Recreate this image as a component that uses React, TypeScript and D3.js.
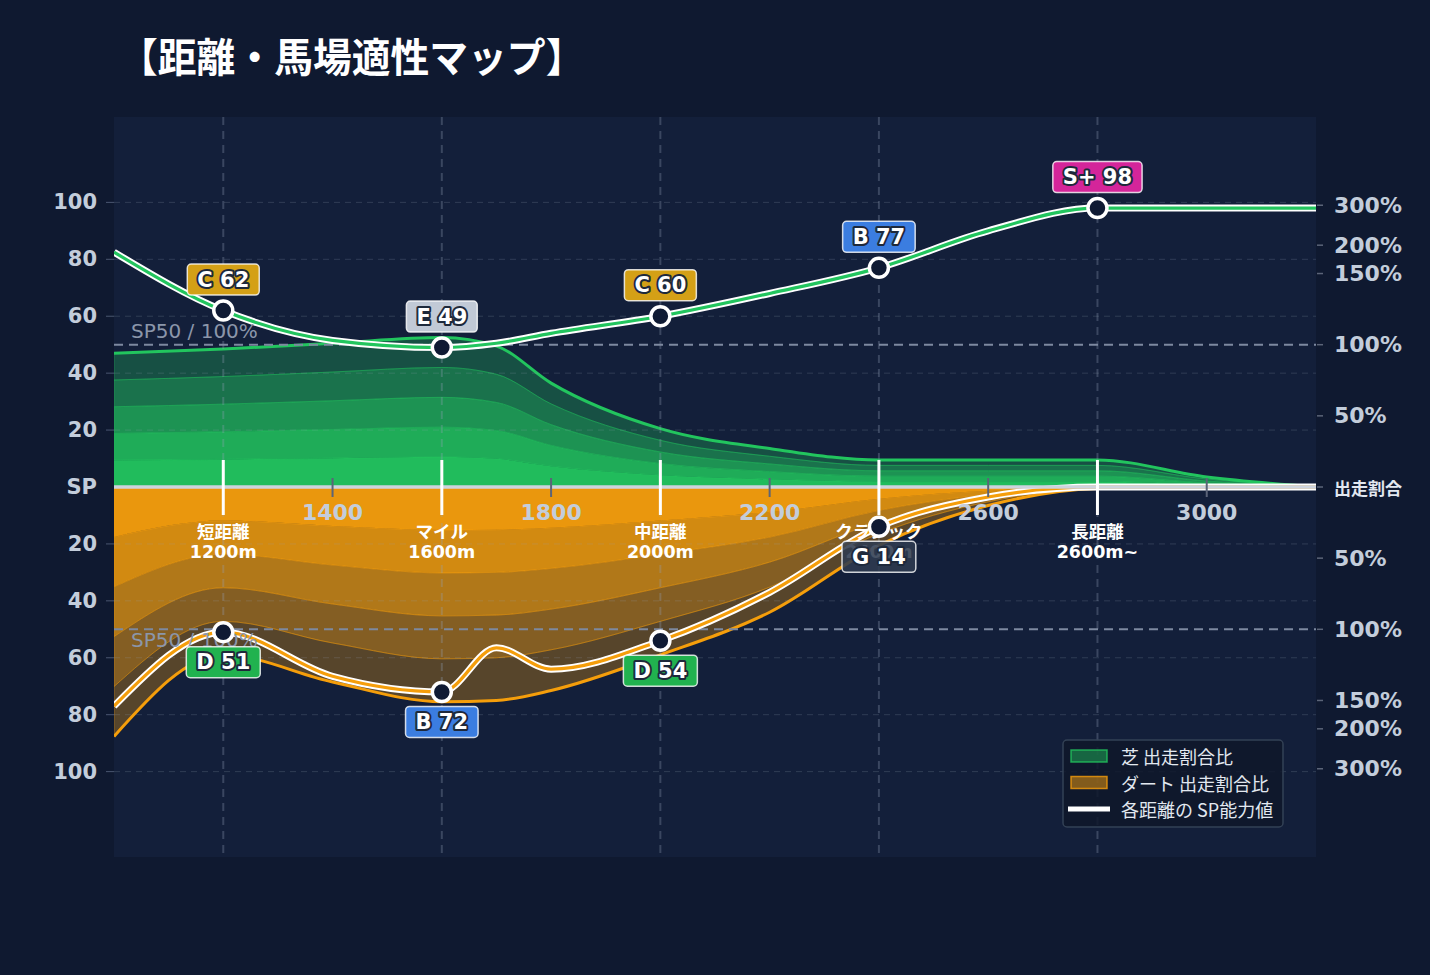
import { useEffect, useRef } from 'react';
import * as d3 from 'd3';

// distances (m) where the series are sampled
const distances = [1000, 1200, 1400, 1600, 1700, 1800, 2000, 2200, 2400, 2600, 2800, 3000, 3200];
// share of starts (%)
const turfRatio = [94, 97, 101, 105, 99, 73, 41, 27, 19, 19, 19, 7, 0];
const dirtRatio = [216, 118, 137, 152, 150, 143, 118, 88, 41, 13, 1, 0, 0];
// SP ability per distance
const turfSp = [82.5, 62, 51.5, 49, 50.5, 54, 60, 68, 77, 90, 98, 98, 98];
const dirtSp = [77, 51, 66.5, 72, 56.5, 64, 54, 37, 14, 3.5, 0, 0, 0];

const categoryDistances = [1200, 1600, 2000, 2400, 2800];
const categoryNames = ['短距離', 'マイル', '中距離', 'クラシック', '長距離'];
const categoryRanges = ['1200m', '1600m', '2000m', '2400m', '2600m~'];
const turfGrades = ['C', 'E', 'C', 'B', 'S+'];
const dirtGrades = ['D', 'B', 'D', 'G', ''];

const xTicks = [1400, 1800, 2200, 2600, 3000];
const spTicks = [20, 40, 60, 80, 100];
const pctTicks = [50, 100, 150, 200, 300];

const gradeColors: Record<string, string> = {
  'S+': '#d4259a',
  A: '#e0572b',
  B: '#3b7de0',
  C: '#d4a016',
  D: '#21b24f',
  E: '#c1c9d6',
  G: 'rgba(47,59,80,0.88)'
};

const legendItems = [
  { label: '芝 出走割合比', kind: 'turf' },
  { label: 'ダート 出走割合比', kind: 'dirt' },
  { label: '各距離の SP能力値', kind: 'line' }
];

const FONT = "'DejaVu Sans', 'Noto Sans CJK JP', sans-serif";
const CJK = "'Noto Sans CJK JP', 'DejaVu Sans', sans-serif";

// ratio (%) -> SP-scale height. linear up to 150%, log2 above
const pctToSp = (p: number) => (p <= 150 ? p / 2 : 75 + 24 * Math.log2(p / 150));

const W = 1430;
const H = 975;
const plot = { left: 114, right: 1316, top: 117, bottom: 857, base: 487 };

export default function App() {
  const svgRef = useRef<SVGSVGElement>(null);

  useEffect(() => {
    if (!svgRef.current) return;
    const svg = d3.select(svgRef.current);
    svg.selectAll('*').remove();

    const x = d3.scaleLinear().domain([1000, 3200]).range([plot.left, plot.right]);
    const yUp = d3.scaleLinear().domain([0, 130]).range([plot.base, plot.top]);
    const yDown = d3.scaleLinear().domain([0, 130]).range([plot.base, plot.bottom]);

    svg.append('rect').attr('width', W).attr('height', H).attr('fill', '#0f1930');

    svg.append('text')
      .attr('transform', 'translate(119,54) scale(0.97,1)')
      .attr('dominant-baseline', 'central')
      .attr('fill', '#ffffff')
      .attr('font-family', CJK)
      .attr('font-weight', 700)
      .attr('font-size', 40)
      .text('【距離・馬場適性マップ】');

    svg.append('rect')
      .attr('x', plot.left)
      .attr('y', plot.top)
      .attr('width', plot.right - plot.left)
      .attr('height', plot.bottom - plot.top)
      .attr('fill', '#131f3a');

    svg.append('clipPath').attr('id', 'plot-clip')
      .append('rect')
      .attr('x', plot.left)
      .attr('y', plot.top)
      .attr('width', plot.right - plot.left)
      .attr('height', plot.bottom - plot.top);

    const chart = svg.append('g').attr('clip-path', 'url(#plot-clip)');

    // stacked-looking ratio bands
    const bandOpacity = [0.95, 0.85, 0.7, 0.5, 0.3];
    const drawBands = (
      ratios: number[],
      y: d3.ScaleLinear<number, number>,
      color: string
    ) => {
      bandOpacity.forEach((op, i) => {
        const area = d3.area<number>()
          .x((_, j) => x(distances[j]))
          .y0((d) => y(pctToSp(d) * i / 5))
          .y1((d) => y(pctToSp(d) * (i + 1) / 5))
          .curve(d3.curveMonotoneX);
        chart.append('path')
          .datum(ratios)
          .attr('d', area)
          .attr('fill', color)
          .attr('fill-opacity', op)
          .attr('stroke', color)
          .attr('stroke-opacity', 0.35)
          .attr('stroke-width', 1);
      });
      const outer = d3.line<number>()
        .x((_, j) => x(distances[j]))
        .y((d) => y(pctToSp(d)))
        .curve(d3.curveMonotoneX);
      chart.append('path')
        .datum(ratios)
        .attr('d', outer)
        .attr('fill', 'none')
        .attr('stroke', color)
        .attr('stroke-width', 3);
    };
    drawBands(turfRatio, yUp, '#22c55e');
    drawBands(dirtRatio, yDown, '#f59e0b');

    // grid
    spTicks.forEach((t) => {
      [yUp(t), yDown(t)].forEach((yy) => {
        chart.append('line')
          .attr('x1', plot.left).attr('x2', plot.right)
          .attr('y1', yy).attr('y2', yy)
          .attr('stroke', 'rgba(148,163,184,0.22)')
          .attr('stroke-width', 1)
          .attr('stroke-dasharray', '6,5');
        svg.append('line')
          .attr('x1', plot.left - 8).attr('x2', plot.left)
          .attr('y1', yy).attr('y2', yy)
          .attr('stroke', '#4a5670');
      });
    });
    categoryDistances.forEach((d) => {
      chart.append('line')
        .attr('x1', x(d)).attr('x2', x(d))
        .attr('y1', plot.top).attr('y2', plot.bottom)
        .attr('stroke', 'rgba(148,163,184,0.3)')
        .attr('stroke-width', 2)
        .attr('stroke-dasharray', '8,6');
    });

    // SP50 reference
    [yUp(50), yDown(50)].forEach((yy, i) => {
      chart.append('line')
        .attr('x1', plot.left).attr('x2', plot.right)
        .attr('y1', yy).attr('y2', yy)
        .attr('stroke', '#7d89a0')
        .attr('stroke-width', 2)
        .attr('stroke-dasharray', '9,6');
      svg.append('text')
        .attr('x', 131)
        .attr('y', i === 0 ? yy - 14 : yy + 11)
        .attr('dominant-baseline', 'central')
        .attr('fill', '#8b96aa')
        .attr('font-family', FONT)
        .attr('font-size', 20)
        .text('SP50 / 100%');
    });

    // baseline
    svg.append('line')
      .attr('x1', plot.left).attr('x2', plot.right)
      .attr('y1', plot.base).attr('y2', plot.base)
      .attr('stroke', '#cdd3dd')
      .attr('stroke-width', 3.5);

    // distance ticks
    xTicks.forEach((t) => {
      svg.append('line')
        .attr('x1', x(t)).attr('x2', x(t))
        .attr('y1', plot.base - 9).attr('y2', plot.base + 10)
        .attr('stroke', '#5b6478')
        .attr('stroke-width', 2);
      svg.append('text')
        .attr('x', x(t))
        .attr('y', plot.base + 25)
        .attr('text-anchor', 'middle')
        .attr('dominant-baseline', 'central')
        .attr('fill', '#c3cddb')
        .attr('font-family', FONT)
        .attr('font-weight', 700)
        .attr('font-size', 22)
        .text(t);
    });

    // category markers
    categoryDistances.forEach((d, i) => {
      svg.append('line')
        .attr('x1', x(d)).attr('x2', x(d))
        .attr('y1', plot.base - 27).attr('y2', plot.base + 28)
        .attr('stroke', '#ffffff')
        .attr('stroke-width', 3);
      svg.append('text')
        .attr('x', x(d))
        .attr('y', plot.base + 43)
        .attr('text-anchor', 'middle')
        .attr('dominant-baseline', 'central')
        .attr('fill', '#ffffff')
        .attr('font-family', CJK)
        .attr('font-weight', 700)
        .attr('font-size', 17.5)
        .text(categoryNames[i]);
      svg.append('text')
        .attr('x', x(d))
        .attr('y', plot.base + 65)
        .attr('text-anchor', 'middle')
        .attr('dominant-baseline', 'central')
        .attr('fill', '#ffffff')
        .attr('font-family', FONT)
        .attr('font-weight', 700)
        .attr('font-size', 17.5)
        .text(categoryRanges[i]);
    });

    // SP lines
    const drawSp = (values: number[], y: d3.ScaleLinear<number, number>, color: string) => {
      const line = d3.line<number>()
        .x((_, j) => x(distances[j]))
        .y((d) => y(d))
        .curve(d3.curveMonotoneX);
      chart.append('path').datum(values).attr('d', line)
        .attr('fill', 'none').attr('stroke', '#ffffff').attr('stroke-width', 7);
      chart.append('path').datum(values).attr('d', line)
        .attr('fill', 'none').attr('stroke', color).attr('stroke-width', 3.2);
    };
    drawSp(turfSp, yUp, '#22c55e');
    drawSp(dirtSp, yDown, '#f59e0b');

    // points and grade badges
    const drawBadges = (
      values: number[],
      grades: string[],
      y: d3.ScaleLinear<number, number>,
      offset: number
    ) => {
      categoryDistances.forEach((d, i) => {
        const g = grades[i];
        if (!g) return;
        const v = values[distances.indexOf(d)];
        const cx = x(d);
        const cy = y(v);
        svg.append('circle')
          .attr('cx', cx).attr('cy', cy).attr('r', 9.5)
          .attr('fill', '#0f1a33')
          .attr('stroke', '#ffffff')
          .attr('stroke-width', 3.5);
        const badge = svg.append('g').attr('transform', `translate(${cx},${cy + offset})`);
        const rect = badge.append('rect')
          .attr('rx', 4)
          .attr('fill', gradeColors[g])
          .attr('stroke', 'rgba(255,255,255,0.8)')
          .attr('stroke-width', 1.5);
        const txt = badge.append('text')
          .attr('text-anchor', 'middle')
          .attr('dominant-baseline', 'central')
          .attr('fill', '#ffffff')
          .attr('stroke', '#1e293b')
          .attr('stroke-width', 4)
          .attr('stroke-linejoin', 'round')
          .attr('paint-order', 'stroke')
          .attr('font-family', FONT)
          .attr('font-weight', 700)
          .attr('font-size', 21)
          .text(`${g} ${Math.round(v)}`);
        const tw = (txt.node() as SVGTextElement).getComputedTextLength();
        const bw = tw + 20;
        rect.attr('x', -bw / 2).attr('y', -15.5).attr('width', bw).attr('height', 31);
      });
    };
    drawBadges(turfSp, turfGrades, yUp, -31);
    drawBadges(dirtSp, dirtGrades, yDown, 30);

    // left axis
    const leftLabels: [number, string][] = [[plot.base, 'SP']];
    spTicks.forEach((t) => {
      leftLabels.push([yUp(t), String(t)]);
      leftLabels.push([yDown(t), String(t)]);
    });
    leftLabels.forEach(([yy, label]) => {
      svg.append('text')
        .attr('x', 97)
        .attr('y', yy)
        .attr('text-anchor', 'end')
        .attr('dominant-baseline', 'central')
        .attr('fill', '#c3cddb')
        .attr('font-family', FONT)
        .attr('font-weight', 700)
        .attr('font-size', 21)
        .text(label);
    });

    // right axis (ratio)
    const rightTick = (yy: number) =>
      svg.append('line')
        .attr('x1', plot.right + 1).attr('x2', plot.right + 7)
        .attr('y1', yy).attr('y2', yy)
        .attr('stroke', '#5b6478')
        .attr('stroke-width', 1.5);
    pctTicks.forEach((p) => {
      [yUp(pctToSp(p)), yDown(pctToSp(p))].forEach((yy) => {
        rightTick(yy);
        svg.append('text')
          .attr('x', 1334)
          .attr('y', yy)
          .attr('dominant-baseline', 'central')
          .attr('fill', '#c3cddb')
          .attr('font-family', FONT)
          .attr('font-weight', 700)
          .attr('font-size', 22)
          .text(`${p}%`);
      });
    });
    rightTick(plot.base);
    svg.append('text')
      .attr('x', 1334)
      .attr('y', plot.base)
      .attr('dominant-baseline', 'central')
      .attr('fill', '#e2e8f0')
      .attr('font-family', CJK)
      .attr('font-weight', 700)
      .attr('font-size', 17)
      .text('出走割合');

    // legend
    const lg = svg.append('g').attr('transform', 'translate(1063,740)');
    lg.append('rect')
      .attr('width', 220).attr('height', 87).attr('rx', 4)
      .attr('fill', 'rgba(15,23,42,0.85)')
      .attr('stroke', '#334155')
      .attr('stroke-width', 1.5);
    legendItems.forEach((item, i) => {
      const cy = 16 + i * 26.5;
      if (item.kind === 'line') {
        lg.append('line')
          .attr('x1', 5).attr('x2', 47)
          .attr('y1', cy).attr('y2', cy)
          .attr('stroke', '#ffffff')
          .attr('stroke-width', 5);
      } else {
        const c = item.kind === 'turf' ? '#22c55e' : '#f59e0b';
        lg.append('rect')
          .attr('x', 8).attr('y', cy - 6)
          .attr('width', 36).attr('height', 12)
          .attr('fill', c).attr('fill-opacity', item.kind === 'turf' ? 0.45 : 0.5)
          .attr('stroke', c).attr('stroke-opacity', 0.8)
          .attr('stroke-width', 1.5);
      }
      lg.append('text')
        .attr('x', 58)
        .attr('y', cy)
        .attr('dominant-baseline', 'central')
        .attr('fill', '#e2e8f0')
        .attr('font-family', CJK)
        .attr('font-size', 18)
        .text(item.label);
    });
  }, []);

  return (
    <svg
      ref={svgRef}
      width={W}
      height={H}
      style={{ position: 'absolute', left: 0, top: 0, display: 'block' }}
    />
  );
}
